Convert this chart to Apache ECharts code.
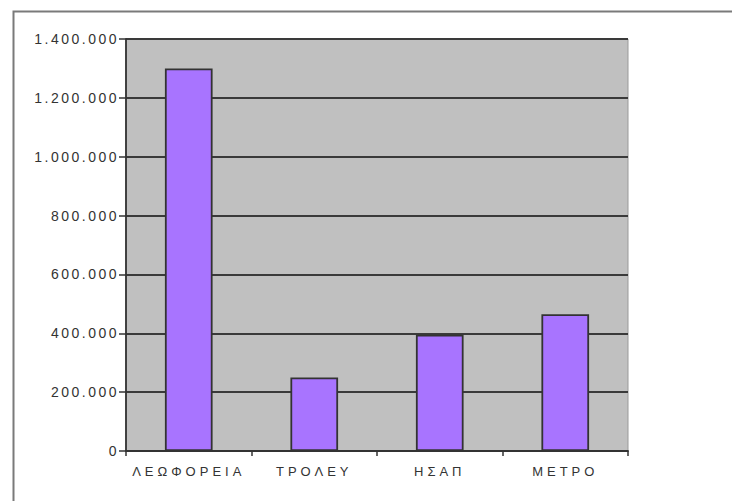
<!DOCTYPE html>
<html>
<head>
<meta charset="utf-8">
<script src="https://cdn.jsdelivr.net/npm/echarts@6/dist/echarts.min.js"></script>
<style>
  html, body { margin: 0; padding: 0; background: #fff; }
  #chart { width: 732px; height: 501px; }
  /* spaced-out axis lettering */
  #chart text[text-anchor="end"] { letter-spacing: 2.5px; }
  #chart text[text-anchor="middle"] { letter-spacing: 4px; }
</style>
</head>
<body>
<div id="chart"></div>
<script>
// Passengers per day by means of transport
const categories = ['ΛΕΩΦΟΡΕΙΑ', 'ΤΡΟΛΕΥ', 'ΗΣΑΠ', 'ΜΕΤΡΟ'];
const passengers = [1300000, 250000, 395000, 465000];
const yMin = 0;
const yMax = 1400000;
const yStep = 200000;

// thousands separated with dots: 1.400.000
function fmtThousands(v) {
  return String(v).replace(/\B(?=(\d{3})+(?!\d))/g, '.');
}

const chart = echarts.init(document.getElementById('chart'), null, { renderer: 'svg' });
chart.setOption({
  animation: false,
  backgroundColor: '#ffffff',
  graphic: [{
    type: 'rect',
    left: 11, top: 9,
    shape: { width: 900, height: 700 },
    style: { fill: 'none', stroke: '#7a7a7a', lineWidth: 2 },
    silent: true, z: -10
  }],
  grid: {
    left: 126, right: 104, top: 39, bottom: 50,
    show: true,
    backgroundColor: '#c0c0c0',
    borderColor: '#9a9a9a',
    borderWidth: 1
  },
  xAxis: {
    type: 'category',
    data: categories,
    boundaryGap: true,
    axisLine: { show: true, lineStyle: { color: '#333', width: 1.8 } },
    axisTick: { show: true, length: 5, inside: false, alignWithLabel: false, lineStyle: { color: '#333', width: 1.5 } },
    axisLabel: {
      color: '#333',
      fontFamily: 'Liberation Sans, Arial, sans-serif',
      fontSize: 13,
      margin: 14,
      interval: 0
    },
    splitLine: { show: false }
  },
  yAxis: {
    type: 'value',
    min: yMin, max: yMax, interval: yStep,
    axisLine: { show: true, lineStyle: { color: '#333', width: 1.8 } },
    axisTick: { show: true, length: 7, lineStyle: { color: '#333', width: 1.5 } },
    axisLabel: {
      color: '#333',
      fontFamily: 'Liberation Sans, Arial, sans-serif',
      fontSize: 14,
      margin: 7,
      formatter: fmtThousands
    },
    splitLine: { show: true, lineStyle: { color: '#3a3a3a', width: 2 } }
  },
  series: [{
    type: 'bar',
    data: passengers,
    barWidth: '38%',
    itemStyle: { color: '#a874ff', borderColor: '#333', borderWidth: 1.8 }
  }]
});
</script>
</body>
</html>
